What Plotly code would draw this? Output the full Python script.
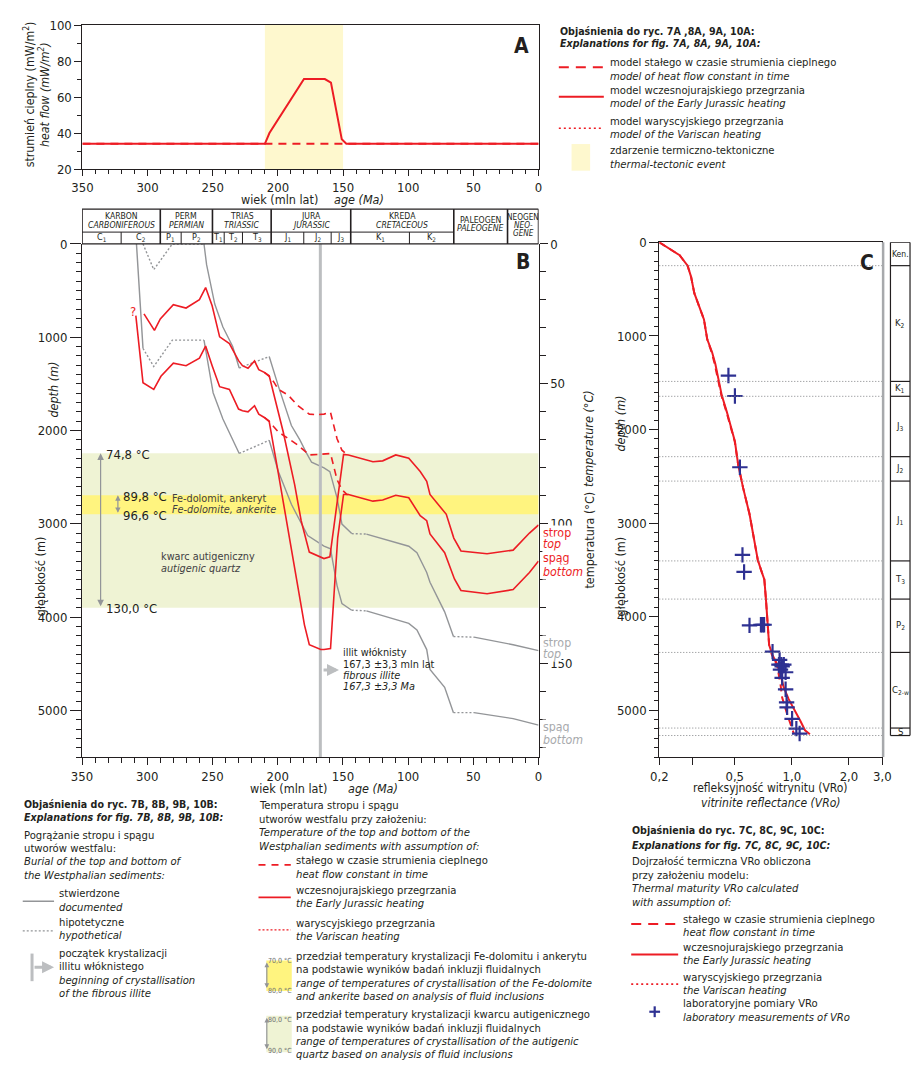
import plotly.graph_objects as go

W, H = 920, 1072
def px(x): return x / W
def py(y): return 1 - y / H

RED = "#ED1C24"; GRAY = "#939598"; LGRAY = "#BCBEC0"; DARK = "#231F20"; BLUE = "#2E3192"
EVENT = "#FEF8CE"; QUARTZ = "#EFF3D4"; DOLO = "#FFF47F"
FONT = "Liberation Sans Narrow, Arial Narrow, DejaVu Sans Condensed, sans-serif"
LEG = 11.2      # legend text size
LEGB = 10.6     # legend bold heading size

# ---------------- Panel A: heat flow ----------------
hf_age_jur = [350, 210, 206.5, 180, 164, 159.3, 151, 147.5, 0]
hf_jur = [34, 34, 40, 70, 70, 68, 36.5, 34, 34]
hf_age_const = [350, 210, 150, 0]
hf_const = [34, 34, 34, 34]
event_start, event_end = 210, 150

# ---------------- Panel B: temperatures (°C) ----------------
redtop_age = [302.5, 294.5, 290, 280, 270.25, 260, 255.25, 250.25, 244.5, 237, 230, 227, 222.75, 217.75,
              214.5, 210.25, 206.5, 195.75, 187, 182, 175.75, 167, 164.5, 160, 149.5, 145.75, 127, 119.5,
              109.5, 99.5, 90.75, 85.75, 83.25, 70.75, 65, 59.5, 39.5, 19.5, 7, 0]
redtop_T = [25.0, 30.9, 26.8, 21.7, 22.9, 19.9, 15.6, 22.1, 33.2, 35.6, 41.7, 43.5, 44.4, 41.8,
            44.9, 45.9, 47.1, 67.2, 86.0, 98.9, 110.1, 112.1, 112.4, 111.8, 75.2, 75.4, 77.8, 77.5,
            75.4, 76.6, 81.3, 84.8, 89.5, 96.6, 105.1, 109.7, 110.7, 109.4, 103.3, 100.4]
redbot_age = [308.75, 303.25, 295, 289.5, 280, 270.25, 260, 255.25, 250.25, 244.5, 237, 230, 227, 222.75,
              217.75, 214.5, 210.25, 206.5, 199.5, 193.25, 184.5, 179.5, 175.75, 167, 164.5, 159.5, 154,
              149.5, 145.75, 127, 119.5, 109.5, 99.5, 90.75, 85.75, 83.25, 72, 64.5, 59.5, 39.5, 19.5, 7, 0]
redbot_T = [25.6, 49.6, 52.0, 47.3, 42.6, 43.5, 40.8, 36.5, 43.5, 51.0, 52.0, 59.0, 59.6, 60.0,
            57.8, 60.8, 62.0, 63.5, 82.0, 98.9, 122.1, 136.1, 143.2, 144.9, 144.9, 144.6, 105,
            89.5, 89.5, 91.9, 91.5, 89.8, 90.7, 97.1, 98.9, 103.6, 110.3, 119.7, 123.8, 125.0, 123.5, 117.4, 113.3]
dash_age = [210.25, 206.5, 203, 199.5, 192, 184.5, 175.75, 170, 164.5, 159.5, 154.5, 150.75, 147, 145.75]
dashtop_T = [45.9, 47.3, 49.3, 52.0, 54.0, 57.8, 60.8, 61.0, 60.8, 60.2, 69.6, 73.7, 75.2, 75.4]
dashbot_T = [62.0, 63.3, 65.3, 67.2, 69.5, 71.9, 75.4, 75.2, 74.9, 74.9, 84.2, 87.8, 89.5, 89.5]

# burial of top / bottom of the Westphalian (age Ma, depth m)
top_documented = [
    [(256.5, 0), (254.5, 222), (248.25, 644), (242, 890), (234.5, 1100), (229.5, 1330)],
    [(206.5, 1207), (199.5, 1524), (189.5, 1946), (183, 2100), (178, 2240), (174, 2340), (164.5, 2400),
     (160, 2440), (154.5, 2721), (150.75, 3003), (143.25, 3105)],
    [(132, 3110), (99.5, 3240), (93.25, 3310), (89.5, 3416), (85.75, 3521), (83.25, 3627), (72, 3944), (65.25, 4208)],
    [(49.5, 4215), (39.5, 4243), (19.5, 4296), (0, 4359)],
]
top_hypothetical = [
    [(303.25, 0), (295, 275), (280.75, 0), (256.5, 0)],
    [(229.5, 1330), (206.5, 1207)],
    [(143.25, 3105), (132, 3110)],
    [(65.25, 4208), (49.5, 4215)],
]
bot_documented = [
    [(308.25, 0), (303.25, 1119)],
    [(256.5, 1031), (254.5, 1190), (249.5, 1595), (242, 1876), (229.5, 2246)],
    [(206.5, 2105), (199.5, 2439), (189.5, 2791), (177, 3126), (164.5, 3240), (159.5, 3268), (154.5, 3662),
     (150.75, 3856), (143.25, 3926)],
    [(132, 3933), (99.5, 4067), (93.25, 4137), (85.75, 4348), (83.25, 4560), (72, 4753), (65.25, 5024)],
    [(49.5, 5024), (19.5, 5088), (0, 5158)],
]
bot_hypothetical = [
    [(303.25, 1119), (295, 1313), (280.75, 1031), (256.5, 1031)],
    [(229.5, 2246), (206.5, 2105)],
    [(143.25, 3926), (132, 3933)],
    [(65.25, 5024), (49.5, 5024)],
]
illite_age = 167.3
quartz_T = (74.8, 130.0)
dolomite_T = (89.8, 96.6)

# stratigraphy header of panel B
period_bounds = [350, 290, 250, 205, 144, 65, 23.8, 0]
period_pl = ["KARBON", "PERM", "TRIAS", "JURA", "KREDA", "PALEOGEN", "NEOGEN"]
period_en = ["CARBONIFEROUS", "PERMIAN", "TRIASSIC", "JURASSIC", "CRETACEOUS", "PALEOGENE", "NEO-GENE"]
sub_bounds = [350, 320, 290, 274, 250, 241, 227, 205, 180, 159, 144, 99, 65]
sub_labels = ["C<sub>1</sub>", "C<sub>2</sub>", "P<sub>1</sub>", "P<sub>2</sub>", "T<sub>1</sub>", "T<sub>2</sub>",
              "T<sub>3</sub>", "J<sub>1</sub>", "J<sub>2</sub>", "J<sub>3</sub>", "K<sub>1</sub>", "K<sub>2</sub>"]

# ---------------- Panel C: vitrinite reflectance ----------------
vro_depth = [0, 49, 137, 250, 366, 543, 683, 824, 1036, 1177, 1300, 1458, 1635, 1811, 1987, 2128, 2374, 2621,
             2903, 3182, 3392, 3497, 3603, 3813, 4093, 4303, 4408, 4513, 4618, 4759, 4881, 5004, 5109, 5214, 5256]
vro_jur = [0.2, 0.218, 0.256, 0.282, 0.294, 0.306, 0.324, 0.344, 0.358, 0.380, 0.395, 0.411, 0.427, 0.454, 0.482,
           0.501, 0.521, 0.553, 0.598, 0.636, 0.661, 0.687, 0.716, 0.730, 0.744, 0.759, 0.790, 0.838, 0.871, 0.907,
           0.962, 1.042, 1.106, 1.173, 1.245]
vro_const_depth = [0, 49, 137, 250, 366, 543, 683, 824, 1036, 1177, 1300, 1458, 1635, 1811, 1987, 2128, 2374,
                   2621, 2903, 3182, 3392, 3497, 3603, 3813, 4093, 4303, 4408, 4513, 4723, 4864, 5039, 5249]
vro_const = [0.2, 0.218, 0.256, 0.282, 0.294, 0.306, 0.324, 0.344, 0.358, 0.378, 0.392, 0.409, 0.425, 0.452,
             0.480, 0.500, 0.521, 0.553, 0.598, 0.636, 0.661, 0.687, 0.716, 0.730, 0.744, 0.759, 0.785, 0.835,
             0.871, 0.889, 0.944, 1.024]
meas_vro = [0.463, 0.501, 0.532, 0.549, 0.560, 0.598, 0.687, 0.700, 0.714, 0.791, 0.862, 0.880, 0.855, 0.889,
            0.907, 0.871, 0.927, 0.889, 0.927, 0.938, 0.944, 1.003, 1.056, 1.099]
meas_depth = [1423, 1642, 2403, 3340, 3522, 4093, 4086, 4086, 4086, 4373, 4461, 4513, 4513, 4531,
              4513, 4566, 4594, 4653, 4776, 4916, 4969, 5091, 5196, 5249]
col_tops = [0, 249, 1486, 1645, 2290, 2551, 3404, 3812, 4382, 5190, 5270]
col_labels = ["Ken.", "K<sub>2</sub>", "K<sub>1</sub>", "J<sub>3</sub>", "J<sub>2</sub>", "J<sub>1</sub>",
              "T<sub>3</sub>", "P<sub>2</sub>", "C<sub>2-w</sub>", "S"]

# ---------------- figure ----------------
fig = go.Figure()
ann = []
shapes = []

def T(x, y, s, size=LEG, color=DARK, xa="left", ya="middle", xref="paper", yref="paper", angle=0, bg=None):
    if xref == "paper":
        x = px(x)
    if yref == "paper":
        y = py(y)
    d = dict(x=x, y=y, xref=xref, yref=yref, text=s, showarrow=False, xanchor=xa, yanchor=ya,
             textangle=angle, font=dict(size=size, color=color, family=FONT), borderpad=0)
    if bg:
        d["bgcolor"] = bg
    ann.append(d)

def L(x0, y0, x1, y1, color=DARK, width=1, dash="solid", xref="paper", yref="paper", layer="above"):
    if xref == "paper":
        x0, x1 = px(x0), px(x1)
    if yref == "paper":
        y0, y1 = py(y0), py(y1)
    shapes.append(dict(type="line", x0=x0, y0=y0, x1=x1, y1=y1, xref=xref, yref=yref, layer=layer,
                       line=dict(color=color, width=width, dash=dash)))

def R(x0, y0, x1, y1, fill, xref="paper", yref="paper", layer="below", lw=0, lc=DARK):
    if xref == "paper":
        x0, x1 = px(x0), px(x1)
    if yref == "paper":
        y0, y1 = py(y0), py(y1)
    shapes.append(dict(type="rect", x0=x0, y0=y0, x1=x1, y1=y1, xref=xref, yref=yref, layer=layer,
                       fillcolor=fill, line=dict(width=lw, color=lc)))

def arrow(x, y, ax, ay, xref, yref, color=GRAY, width=1.2, both=True, size=1.1):
    d = dict(x=x, y=y, xref=xref, yref=yref, text="", showarrow=True, arrowhead=2, arrowsize=size,
             arrowwidth=width, arrowcolor=color, arrowside="end+start" if both else "end")
    if xref == "paper":
        d.update(x=px(x), y=py(y), axref="pixel", ayref="pixel", ax=ax - x, ay=ay - y)
    else:
        d.update(axref=xref, ayref=yref, ax=ax, ay=ay)
    ann.append(d)

# Panel A traces
R(event_start, 20, event_end, 100, EVENT, xref="x", yref="y")
fig.add_trace(go.Scatter(x=hf_age_const, y=hf_const, mode="lines", xaxis="x", yaxis="y",
                         line=dict(color=RED, width=2, dash="8px,6px")))
fig.add_trace(go.Scatter(x=hf_age_jur, y=hf_jur, mode="lines", xaxis="x", yaxis="y",
                         line=dict(color=RED, width=2)))

# Panel B bands
R(350, quartz_T[0], 0, quartz_T[1], QUARTZ, xref="x2", yref="y3")
R(350, dolomite_T[0], 0, dolomite_T[1], DOLO, xref="x2", yref="y3")

def seg_xy(segs):
    xs, ys = [], []
    for s in segs:
        for a, d in s:
            xs.append(a); ys.append(d)
        xs.append(None); ys.append(None)
    return xs, ys

for segs, dash in [(top_hypothetical, "2px,2px"), (bot_hypothetical, "2px,2px"),
                   (top_documented, "solid"), (bot_documented, "solid")]:
    xs, ys = seg_xy(segs)
    fig.add_trace(go.Scatter(x=xs, y=ys, mode="lines", xaxis="x2", yaxis="y2",
                             line=dict(color=GRAY, width=1.4, dash=dash)))

fig.add_trace(go.Scatter(x=[illite_age, illite_age], y=[0, 5500], mode="lines", xaxis="x2", yaxis="y2",
                         line=dict(color=LGRAY, width=3)))

for xs, ys, dash in [(dash_age, dashtop_T, "7px,5px"), (dash_age, dashbot_T, "7px,5px"),
                     (redtop_age, redtop_T, "solid"), (redbot_age, redbot_T, "solid")]:
    fig.add_trace(go.Scatter(x=xs, y=ys, mode="lines", xaxis="x2", yaxis="y3",
                             line=dict(color=RED, width=1.6, dash=dash)))

# Panel C traces
fig.add_trace(go.Scatter(x=vro_const, y=vro_const_depth, mode="lines", xaxis="x3", yaxis="y4",
                         line=dict(color=RED, width=2, dash="7px,5px")))
fig.add_trace(go.Scatter(x=vro_jur, y=vro_depth, mode="lines", xaxis="x3", yaxis="y4",
                         line=dict(color=RED, width=2)))
fig.add_trace(go.Scatter(x=meas_vro, y=meas_depth, mode="markers", xaxis="x3", yaxis="y4",
                         marker=dict(symbol="cross-thin", size=11, line=dict(width=2.2, color=BLUE))))

# ---------------- Panel A annotations ----------------
T(522, 40, "<b>A</b>", size=21, xa="center")
T(18, 89, "strumień cieplny (mW/m<sup>2</sup>)", size=12.3, xa="center", angle=-90)
T(33, 89, "<i>heat flow (mW/m<sup>2</sup>)</i>", size=12.3, xa="center", angle=-90)
T(234, 195, "wiek (mln lat)", size=12.5)
T(329, 195, "<i>age (Ma)</i>", size=12.5)

# top-right legend (A)
T(560, 24, "<b>Objaśnienia do ryc. 7A ,8A, 9A, 10A:</b>", size=LEGB)
T(560, 37, "<b><i>Explanations for fig. 7A, 8A, 9A, 10A:</i></b>", size=LEGB)
L(560, 61, 606, 61, RED, 2, "10px,7px")
L(560, 91, 606, 91, RED, 2)
L(560, 123, 606, 123, RED, 1.6, "2px,3px")
R(573, 139, 592, 166, EVENT, layer="above")
for y, s in [(56, "model stałego w czasie strumienia cieplnego"), (70, "<i>model of heat flow constant in time</i>"),
             (85, "model wczesnojurajskiego przegrzania"), (98, "<i>model of the Early Jurassic heating</i>"),
             (116, "model waryscyjskiego przegrzania"), (129, "<i>model of the Variscan heating</i>"),
             (146, "zdarzenie termiczno-tektoniczne"), (160, "<i>thermal-tectonic event</i>")]:
    T(611, y, s)

# ---------------- Panel B header ----------------
HT, HM, HB = 205, 228.3, 240.3
L(350, HT, 0, HT, DARK, 1.2, xref="x2")
L(350, HM, 65, HM, DARK, 1, xref="x2")
L(350, HB, 0, HB, DARK, 1.2, xref="x2")
for b in period_bounds:
    L(b, HT, b, HB, DARK, 1.6, xref="x2")
for b in sub_bounds[1:-1]:
    if b not in period_bounds:
        L(b, HM, b, HB, DARK, 1, xref="x2")
for i in range(len(period_pl)):
    c = (period_bounds[i] + period_bounds[i + 1]) / 2
    if i < 5:
        T(c, 212, period_pl[i], size=8.6, xa="center", xref="x2")
        T(c, 221, "<i>" + period_en[i] + "</i>", size=8.6, xa="center", xref="x2")
    elif i == 5:
        T(c, 216, period_pl[i], size=8.6, xa="center", xref="x2")
        T(c, 224, "<i>" + period_en[i] + "</i>", size=8.6, xa="center", xref="x2")
    else:
        part1, part2 = period_en[i].split("-")
        T(c, 212.5, period_pl[i], size=8.2, xa="center", xref="x2")
        T(c, 221, "<i>" + part1 + "-</i>", size=8.2, xa="center", xref="x2")
        T(c, 229.5, "<i>" + part2 + "</i>", size=8.2, xa="center", xref="x2")
for i, lab in enumerate(sub_labels):
    c = (sub_bounds[i] + sub_bounds[i + 1]) / 2
    T(c, 233.5, lab, size=9, xa="center", xref="x2")

# ---------------- Panel B annotations ----------------
T(523, 259, "<b>B</b>", size=21, xa="center")
T(31, 577, "głębokość (m)", size=12.5, xa="center", angle=-90)
T(44, 388, "<i>depth (m)</i>", size=12.5, xa="center", angle=-90)
T(591, 438, "<i>temperature (°C)</i>", size=12.5, xa="center", angle=-90)
T(591, 541, "temperatura (°C)", size=12.5, xa="center", angle=-90)
T(243, 793, "wiek (mln lat)", size=12.5)
T(343, 793, "<i>age (Ma)</i>", size=12.5)

arrow(335.75, quartz_T[0], 335.75, quartz_T[1], "x2", "y3")
arrow(322.5, dolomite_T[0], 322.5, dolomite_T[1], "x2", "y3", size=0.9)
T(332.5, 75.2, "74,8 °C", size=13, xref="x2", yref="y3")
T(319.5, 90.3, "89,8 °C", size=13, xref="x2", yref="y3")
T(319.5, 97.2, "96,6 °C", size=13, xref="x2", yref="y3")
T(332.5, 130.3, "130,0 °C", size=13, xref="x2", yref="y3")
T(282, 90.9, "Fe-dolomit, ankeryt", size=10.8, color="#414042", xref="x2", yref="y3")
T(282, 95.0, "<i>Fe-dolomite, ankerite</i>", size=10.8, color="#414042", xref="x2", yref="y3")
T(290, 111.8, "kwarc autigeniczny", size=10.8, color="#414042", xref="x2", yref="y3")
T(290, 115.9, "<i>autigenic quartz</i>", size=10.8, color="#414042", xref="x2", yref="y3")
T(311.3, 24.0, "?", size=13, color=RED, xa="center", xref="x2", yref="y3")

arrow(153, 4567, 166, 4567, "x2", "y2", color=LGRAY, width=3, both=False, size=0.8)
for yy, s in [(655, "illit włóknisty"), (666.5, "167,3 ±3,3 mln lat"), (678, "<i>fibrous illite</i>"),
              (689.5, "<i>167,3 ±3,3 Ma</i>")]:
    T(338, yy, s, size=10.8)

for yy, s, col in [(533.5, "strop", RED), (544.5, "<i>top</i>", RED), (558.5, "spąg", RED), (573, "<i>bottom</i>", RED),
                   (645, "strop", "#A7A9AC"), (656, "<i>top</i>", "#A7A9AC"), (730, "spąg", "#A7A9AC"),
                   (743, "<i>bottom</i>", "#A7A9AC")]:
    T(543, yy, s, size=12.3, color=col, bg="white")

# ---------------- Panel C annotations ----------------
T(875, 260, "<b>C</b>", size=21, xa="center")
T(623, 577, "głębokość (m)", size=12.5, xa="center", angle=-90)
T(623, 422, "<i>depth (m)</i>", size=12.5, xa="center", angle=-90)
T(776, 792, "refleksyjność witrynitu (VRo)", size=12, xa="center")
T(776, 807, "<i>vitrinite reflectance (VRo)</i>", size=12, xa="center")

CX0, CX1 = 899, 919
for d in col_tops[1:]:
    shapes.append(dict(type="line", x0=0, x1=1, y0=d, y1=d, xref="x3 domain", yref="y4", layer="above",
                       line=dict(color="#808285", width=1, dash="1px,2px")))
for d in col_tops:
    shapes.append(dict(type="line", x0=px(CX0), x1=px(CX1), y0=d, y1=d, xref="paper", yref="y4",
                       line=dict(color=DARK, width=1.2)))
for cx in (CX0, CX1):
    shapes.append(dict(type="line", x0=px(cx), x1=px(cx), y0=0, y1=col_tops[-1], xref="paper", yref="y4",
                       line=dict(color=DARK, width=1.2)))
for i, lab in enumerate(col_labels):
    c = (col_tops[i] + col_tops[i + 1]) / 2
    ann.append(dict(x=px(909), y=c, xref="paper", yref="y4", text=lab, showarrow=False, xanchor="center",
                    yanchor="middle", font=dict(size=9.5 if i else 8.5, color=DARK, family=FONT)))
L(891.5, 238.7, 891.5, 760.7, "#A7A9AC", 2.5)

# ---------------- bottom legends ----------------
T(12, 808, "<b>Objaśnienia do ryc. 7B, 8B, 9B, 10B:</b>", size=LEGB)
T(12, 822, "<b><i>Explanations for fig. 7B, 8B, 9B, 10B:</i></b>", size=LEGB)
for yy, s in [(840, "Pogrążanie stropu i spągu"), (853.5, "utworów westfalu:"),
              (867, "<i>Burial of the top and bottom of</i>"), (880.5, "<i>the Westphalian sediments:</i>")]:
    T(12, yy, s)
L(12, 907, 44, 907, GRAY, 1.4)
L(12, 937, 44, 937, GRAY, 1.2, "2px,2px")
L(21.5, 960, 21.5, 988, LGRAY, 3)
arrow(44, 974, 23, 974, "paper", "paper", color=LGRAY, width=3, both=False, size=0.8)
for yy, s in [(899, "stwierdzone"), (913, "<i>documented</i>"), (928.5, "hipotetyczne"), (942, "<i>hypothetical</i>"),
              (960, "początek krystalizacji"), (973.5, "illitu włóknistego"),
              (987, "<i>beginning of crystallisation</i>"), (1000.5, "<i>of the fibrous illite</i>")]:
    T(48, yy, s)

for yy, s in [(810, "Temperatura stropu i spągu"), (824, "utworów westfalu przy założeniu:"),
              (837.5, "<i>Temperature of the top and bottom of the</i>"),
              (851, "<i>Westphalian sediments with assumption of:</i>")]:
    T(252, yy, s)
L(253, 870, 286, 870, RED, 1.6, "7px,6px")
L(253, 903, 286, 903, RED, 1.6)
L(253, 936, 286, 936, RED, 1.3, "2px,2px")
R(261, 967, 287, 998, DOLO, layer="above")
R(261, 1023, 287, 1060, QUARTZ, layer="above")
arrow(261.5, 969, 261.5, 996, "paper", "paper", size=0.8)
arrow(261.5, 1025, 261.5, 1058, "paper", "paper", size=0.8)
for yy, s in [(968, "70,0 °C"), (998, "80,0 °C"), (1027, "80,0 °C"), (1059, "90,0 °C")]:
    T(262, yy, s, size=7, color="#6D6E71")
for yy, s in [(866, "stałego w czasie strumienia cieplnego"), (879.5, "<i>heat flow constant in time</i>"),
              (896, "wczesnojurajskiego przegrzania"), (909.5, "<i>the Early Jurassic heating</i>"),
              (929, "waryscyjskiego przegrzania"), (942.5, "<i>the Variscan heating</i>"),
              (963, "przedział temperatury krystalizacji Fe-dolomitu i ankerytu"),
              (976.5, "na podstawie wyników badań inkluzji fluidalnych"),
              (990, "<i>range of temperatures of crystallisation of the Fe-dolomite</i>"),
              (1003.5, "<i>and ankerite based on analysis of fluid inclusions</i>"),
              (1022, "przedział temperatury krystalizacji kwarcu autigenicznego"),
              (1035.5, "na podstawie wyników badań inkluzji fluidalnych"),
              (1049, "<i>range of temperatures of crystallisation of the autigenic</i>"),
              (1062.5, "<i>quartz based on analysis of fluid inclusions</i>")]:
    T(290, yy, s)

T(634, 835, "<b>Objaśnienia do ryc. 7C, 8C, 9C, 10C:</b>", size=LEGB)
T(634, 850, "<b><i>Explanations for fig. 7C, 8C, 9C, 10C:</i></b>", size=LEGB)
for yy, s in [(867, "Dojrzałość termiczna VRo obliczona"), (880.5, "przy założeniu modelu:"),
              (894.5, "<i>Thermal maturity VRo calculated</i>"), (908, "<i>with assumption of:</i>")]:
    T(634, yy, s)
L(634, 930, 682, 930, RED, 2, "10px,7px")
L(634, 961, 682, 961, RED, 2)
L(634, 991, 682, 991, RED, 1.6, "2px,3px")
L(652.5, 1019, 663.5, 1019, BLUE, 2.2)
L(658, 1013.5, 658, 1024.5, BLUE, 2.2)
for yy, s in [(925, "stałego w czasie strumienia cieplnego"), (938.5, "<i>heat flow constant in time</i>"),
              (954, "wczesnojurajskiego przegrzania"), (967.5, "<i>the Early Jurassic heating</i>"),
              (984, "waryscyjskiego przegrzania"), (997.5, "<i>the Variscan heating</i>"),
              (1011, "laboratoryjne pomiary VRo"), (1025, "<i>laboratory measurements of VRo</i>")]:
    T(686, yy, s)

# ---------------- axes ----------------
tickfont = dict(size=13, color=DARK, family=FONT)
common = dict(showgrid=False, zeroline=False, showline=True, linecolor=DARK, linewidth=1,
              ticks="outside", tickcolor=DARK, tickfont=tickfont)

fig.update_layout(
    width=W, height=H, margin=dict(l=0, r=0, t=0, b=0), showlegend=False,
    paper_bgcolor="white", plot_bgcolor="rgba(0,0,0,0)",
    font=dict(family=FONT, color=DARK),
    xaxis=dict(domain=[px(73), px(539.3)], range=[350, 0], anchor="y", mirror=True, tick0=0, dtick=50,
               ticklen=6, minor=dict(dtick=10, ticklen=3.5, ticks="outside", tickcolor=DARK), **common),
    yaxis=dict(domain=[py(164.3), py(18.3)], range=[20, 100], anchor="x", mirror=True, tick0=0, dtick=20,
               ticklen=7, minor=dict(dtick=10, ticklen=4.5, ticks="outside", tickcolor=DARK), **common),
    xaxis2=dict(domain=[px(72.6), px(539.3)], range=[350, 0], anchor="y2", tick0=0, dtick=50,
                ticklen=7, minor=dict(dtick=10, ticklen=4.5, ticks="outside", tickcolor=DARK), **common),
    yaxis2=dict(domain=[py(760.7), py(240.3)], range=[5500, 0], anchor="x2", tick0=0, dtick=1000,
                ticklen=11, minor=dict(dtick=100, ticklen=5, ticks="outside", tickcolor=DARK), **common),
    yaxis3=dict(range=[5500 / 30, 0], overlaying="y2", side="right", anchor="x2", tick0=0, dtick=50,
                ticklen=8, minor=dict(dtick=10, ticklen=6, ticks="outside", tickcolor=DARK), **common),
    xaxis3=dict(domain=[px(662.7), px(890.7)], type="log", range=[-0.69897, 0.47712], anchor="y4", mirror=True,
                tickvals=[0.2, 0.3, 0.5, 1, 2, 3], ticktext=["0,2", "", "0,5", "1,0", "2,0", "3,0"],
                ticklen=7, **common),
    yaxis4=dict(domain=[py(760.7), py(238.7)], range=[5500, 0], anchor="x3", mirror=True, tick0=0, dtick=1000,
                ticklen=9, minor=dict(dtick=100, ticklen=4, ticks="outside", tickcolor=DARK), **common),
    annotations=ann, shapes=shapes,
)
fig.update_traces(hoverinfo="skip")
fig.write_html("out.html")
